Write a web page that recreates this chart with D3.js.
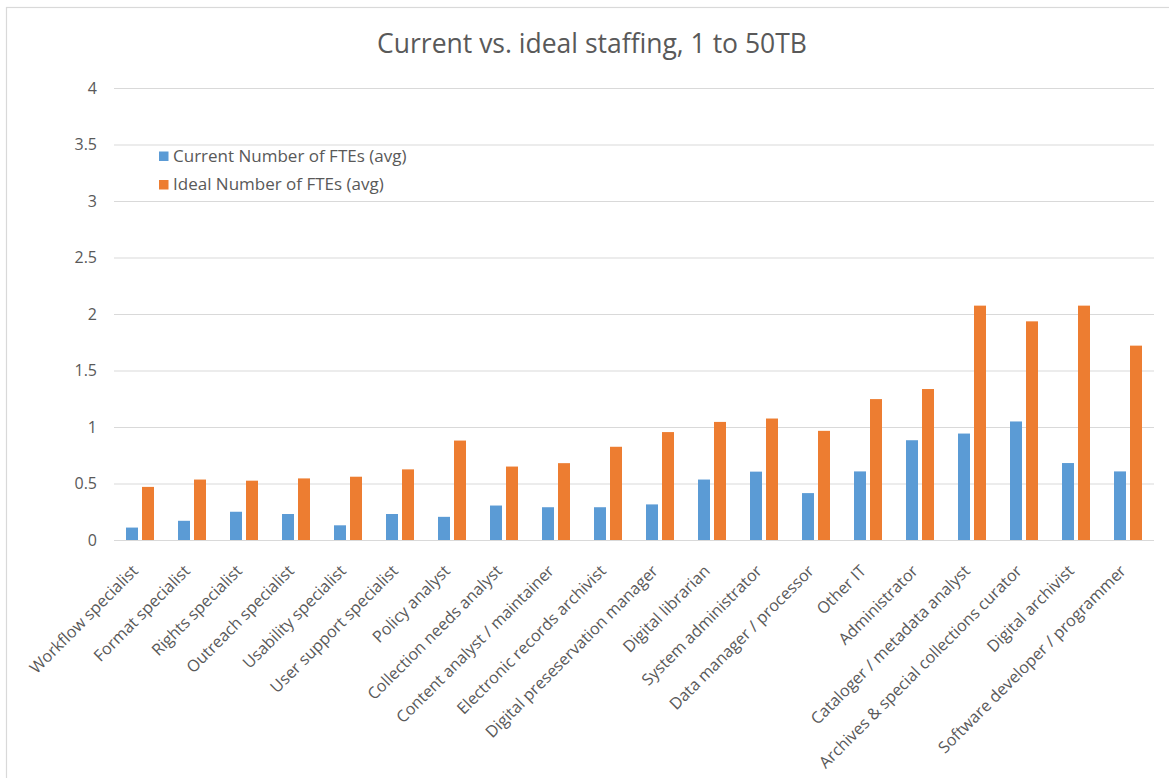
<!DOCTYPE html>
<html><head><meta charset="utf-8">
<script src="https://cdn.jsdelivr.net/npm/d3@7"></script>
<style>body{margin:0;background:#fff;} svg{display:block;}</style>
</head><body>
<svg id="chart" width="1169" height="778"></svg>
<script>
const categories = ["Workflow specialist","Format specialist","Rights specialist","Outreach specialist","Usability specialist","User support specialist","Policy analyst","Collection needs analyst","Content analyst / maintainer","Electronic records archivist","Digital preseservation manager","Digital librarian","System administrator","Data manager / processor","Other IT","Administrator","Cataloger / metadata analyst","Archives & special collections curator","Digital archivist","Software developer / programmer"];
const currentFTE = [0.11,0.17,0.25,0.23,0.13,0.23,0.205,0.305,0.29,0.29,0.315,0.535,0.605,0.415,0.607,0.883,0.942,1.049,0.681,0.607];
const idealFTE = [0.47,0.535,0.525,0.545,0.56,0.625,0.88,0.65,0.68,0.825,0.955,1.045,1.075,0.966,1.247,1.336,2.074,1.935,2.074,1.72];
const seriesNames = ["Current Number of FTEs (avg)","Ideal Number of FTEs (avg)"];
const yTicks = [0,0.5,1,1.5,2,2.5,3,3.5,4];
const title = "Current vs. ideal staffing, 1 to 50TB";

const colors = ["#5B9BD5","#ED7D31"];
const font = "'Open Sans', Lato, sans-serif";
const svg = d3.select("#chart");
const m = {left:114, right:1154, top:88, bottom:540};

svg.append("rect").attr("x",6.5).attr("y",7.5).attr("width",1300).attr("height",900)
  .attr("fill","#fff").attr("stroke","#D9D9D9").attr("stroke-width",1.2);

const x = d3.scaleBand().domain(categories).range([m.left,m.right]);
const y = d3.scaleLinear().domain([0,4]).range([m.bottom,m.top]);

// gridlines
svg.append("g").selectAll("line").data(yTicks).join("line")
  .attr("x1",m.left).attr("x2",m.right)
  .attr("y1",d=>y(d)+0.5).attr("y2",d=>y(d)+0.5)
  .attr("stroke","#D9D9D9").attr("stroke-width",1);

// y axis labels
const yAxis = d3.axisLeft(y).tickValues(yTicks).tickSize(0).tickPadding(0).tickFormat(d3.format("~g"));
const yg = svg.append("g").attr("transform",`translate(97,0)`).call(yAxis);
yg.select(".domain").remove();
yg.selectAll("text").attr("font-family",font).attr("font-size",16).attr("fill","#595959");

// bars
const barW = 12, gap = 4;
const series = [currentFTE, idealFTE];
series.forEach((vals,si)=>{
  svg.append("g").selectAll("rect").data(vals).join("rect")
    .attr("x",(d,i)=>x(categories[i]) + x.bandwidth()/2 + (si===0 ? -(barW+gap/2) : gap/2))
    .attr("width",barW)
    .attr("y",d=>y(d)).attr("height",d=>y(0)-y(d))
    .attr("fill",colors[si]);
});

// x axis labels
const xAxis = d3.axisBottom(x).tickSize(0).tickPadding(0);
const xg = svg.append("g").attr("transform",`translate(0,${m.bottom})`).call(xAxis);
xg.select(".domain").remove();
xg.selectAll("text")
  .attr("font-family",font).attr("font-size",16.2).attr("fill","#595959")
  .attr("text-anchor","end").attr("dy","0.35em")
  .attr("transform","translate(-5,28) rotate(-45)");

// title
svg.append("text").attr("x",592).attr("y",53).attr("text-anchor","middle")
  .attr("font-family",font).attr("font-size",26.5).attr("fill","#595959").text(title);

// legend
const lg = svg.append("g");
seriesNames.forEach((n,i)=>{
  const cy = 156 + i*28.5;
  lg.append("rect").attr("x",159).attr("y",cy-4.5).attr("width",9.5).attr("height",9.5).attr("fill",colors[i]);
  lg.append("text").attr("x",173).attr("y",cy).attr("dy","0.35em")
    .attr("font-family",font).attr("font-size",17).attr("fill","#595959").text(n);
});
</script>
</body></html>
